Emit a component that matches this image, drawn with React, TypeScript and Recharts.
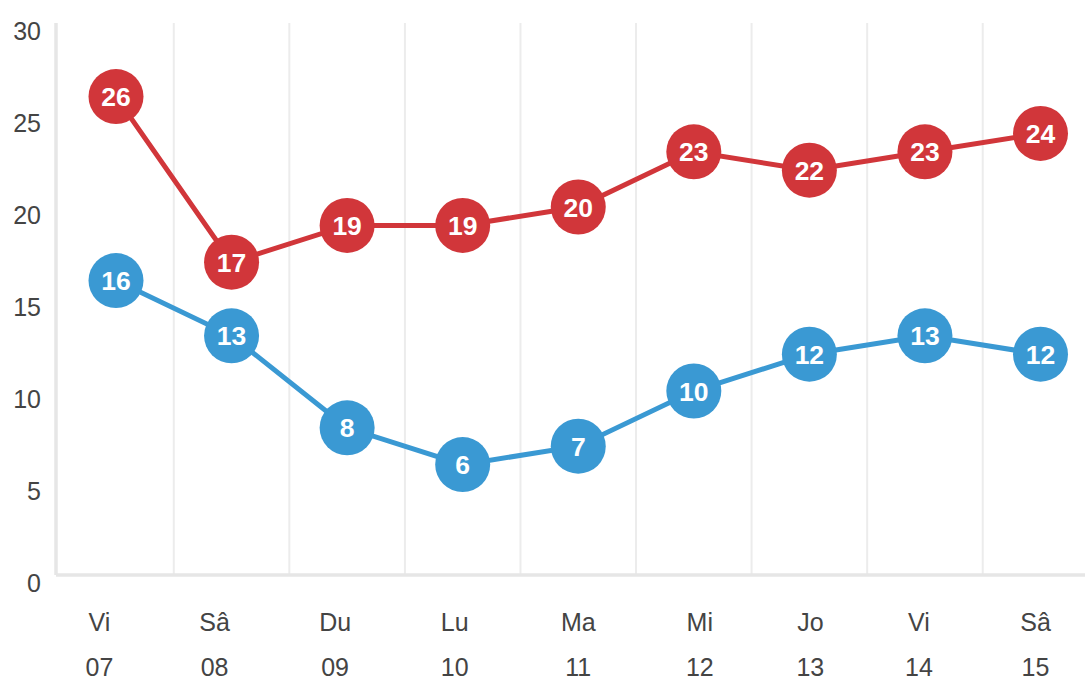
import React from 'react';
import { LineChart, Line, XAxis, YAxis, CartesianGrid } from 'recharts';

const days = ['Vi', 'Sâ', 'Du', 'Lu', 'Ma', 'Mi', 'Jo', 'Vi', 'Sâ'];
const dates = ['07', '08', '09', '10', '11', '12', '13', '14', '15'];
const maxTemps = [26, 17, 19, 19, 20, 23, 22, 23, 24];
const minTemps = [16, 13, 8, 6, 7, 10, 12, 13, 12];
const yTicks = [0, 5, 10, 15, 20, 25, 30];

const RED = '#d1363a';
const BLUE = '#3a99d3';
const AXIS = '#e6e6e6';
const TEXT = '#444';
const PAD_L = 60;
const PAD_R = 60;
// the x labels in the original sit a little off their points
const LABEL_NUDGE = [-16.5, -17, -12, -8, 0, 6, 1, -6, -5];

const data = days.map((d, i) => ({
  key: `${d}-${dates[i]}`,
  day: d,
  date: dates[i],
  max: maxTemps[i],
  min: minTemps[i],
}));

const makeDot = (color: string) => (props: any) => {
  const { cx, cy, value, index } = props;
  if (cx == null || cy == null) return <g key={`d-${index}`} />;
  return (
    <g key={`d-${color}-${index}`}>
      <circle cx={cx} cy={cy} r={27.5} fill={color} />
      <text
        x={cx}
        y={cy}
        dy={9.5}
        textAnchor="middle"
        fill="#fff"
        fontSize={26.5}
        fontWeight="bold"
        fontFamily="'Liberation Sans', Arial, sans-serif"
      >
        {value}
      </text>
    </g>
  );
};

const XTick = (props: any) => {
  const { x, y, index } = props;
  const dx = LABEL_NUDGE[index] || 0;
  return (
    <g>
      <text x={x + dx} y={y} dy={56} textAnchor="middle" fill={TEXT} fontSize={25}>
        {days[index]}
      </text>
      <text x={x + dx} y={y} dy={101} textAnchor="middle" fill={TEXT} fontSize={25}>
        {dates[index]}
      </text>
    </g>
  );
};

const YTick = (props: any) => {
  const { x, y, payload } = props;
  return (
    <text x={x} y={y} dx={-15} dy={17} textAnchor="end" fill={TEXT} fontSize={25}>
      {payload.value}
    </text>
  );
};

export default function App() {
  return (
    <div
      style={{
        position: 'fixed',
        left: 0,
        top: 0,
        width: 1085,
        height: 682,
        overflow: 'hidden',
        background: '#fff',
        fontFamily: "'Liberation Sans', Arial, sans-serif",
      }}
    >
      <LineChart
        width={1110}
        height={682}
        data={data}
        margin={{ top: 23, right: 9.5, bottom: 0, left: 0 }}
      >
        <CartesianGrid
          horizontal={false}
          stroke="#ececec"
          strokeWidth={2}
          verticalCoordinatesGenerator={({ offset }: any) => {
            const step = (offset.width - PAD_L - PAD_R) / (days.length - 1);
            return days.slice(0, -1).map((_, i) => offset.left + PAD_L + step * (i + 0.5));
          }}
        />
        <XAxis
          dataKey="key"
          padding={{ left: PAD_L, right: PAD_R }}
          axisLine={{ stroke: AXIS, strokeWidth: 3.5 }}
          tickLine={false}
          tickSize={0}
          tickMargin={0}
          height={107}
          interval={0}
          tick={<XTick />}
        />
        <YAxis
          domain={[0, 30]}
          ticks={yTicks}
          width={56}
          axisLine={{ stroke: AXIS, strokeWidth: 3.5 }}
          tickLine={false}
          tickSize={0}
          tickMargin={0}
          interval={0}
          tick={<YTick />}
        />
        <Line
          dataKey="max"
          stroke={RED}
          strokeWidth={5}
          dot={makeDot(RED)}
          activeDot={false}
          isAnimationActive={false}
        />
        <Line
          dataKey="min"
          stroke={BLUE}
          strokeWidth={5}
          dot={makeDot(BLUE)}
          activeDot={false}
          isAnimationActive={false}
        />
      </LineChart>
    </div>
  );
}
